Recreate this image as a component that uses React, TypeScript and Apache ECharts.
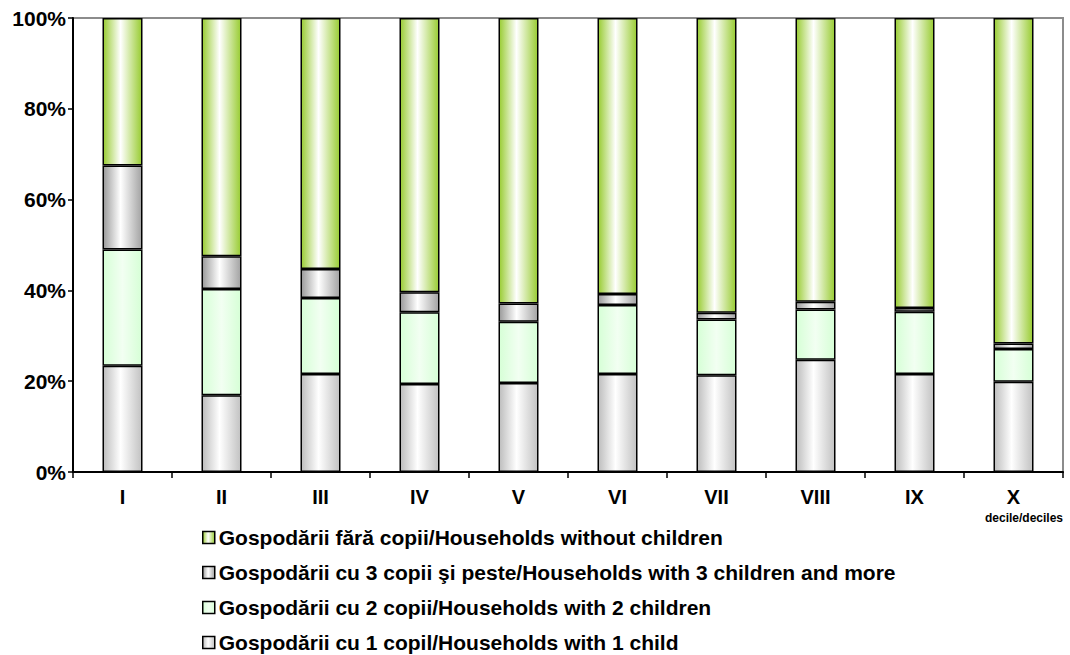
import React, { useEffect, useRef } from "react";
import * as echarts from "echarts";

const categories = ["I", "II", "III", "IV", "V", "VI", "VII", "VIII", "IX", "X"];
const oneChild = [23.4, 16.9, 21.6, 19.4, 19.6, 21.6, 21.3, 24.7, 21.6, 19.9];
const twoChildren = [25.6, 23.4, 16.7, 15.8, 13.5, 15.2, 12.3, 11.1, 13.7, 7.2];
const threePlus = [18.5, 7.2, 6.4, 4.4, 4.0, 2.4, 1.5, 1.7, 0.8, 1.2];
const noChildren = [32.5, 52.5, 55.3, 60.4, 62.9, 60.8, 64.9, 62.5, 63.9, 71.7];

const nameNo = "Gospodării fără copii/Households without children";
const name3 = "Gospodării cu 3 copii şi peste/Households with 3 children and more";
const name2 = "Gospodării cu 2 copii/Households with 2 children";
const name1 = "Gospodării cu 1 copil/Households with 1 child";
const legendOrder = [nameNo, name3, name2, name1];

const FONT = "'Liberation Sans', Arial, sans-serif";

function grad(edgeL: string, mid: string, edgeR: string, midPos = 0.45) {
  return new echarts.graphic.LinearGradient(0, 0, 1, 0, [
    { offset: 0, color: edgeL },
    { offset: midPos, color: mid },
    { offset: 1, color: edgeR },
  ]);
}

export default function App() {
  const ref = useRef<HTMLDivElement>(null);
  useEffect(() => {
    if (!ref.current) return;
    const chart = echarts.init(ref.current, null, { renderer: "svg" });
    const border = { borderColor: "#000", borderWidth: 1.5 };
    const mk = (name: string, data: number[], color: any) => ({
      name,
      type: "bar",
      stack: "total",
      barWidth: 40,
      data,
      itemStyle: { color, ...border },
    });
    const legends = legendOrder.map((n, i) => ({
      orient: "vertical",
      left: 202,
      top: 527 + i * 35,
      padding: 0,
      itemWidth: 12,
      itemHeight: 12,
      itemGap: 0,
      icon: "rect",
      data: [n],
      itemStyle: { borderColor: "#000", borderWidth: 1.5 },
      textStyle: {
        color: "#000",
        fontWeight: "bold",
        fontSize: 21,
        fontFamily: FONT,
        padding: [0, 0, 0, -1],
      },
    }));
    chart.setOption({
      animation: false,
      backgroundColor: "#fff",
      textStyle: { fontFamily: FONT },
      grid: {
        left: 73,
        right: 7,
        top: 18,
        bottom: 183,
        show: true,
        borderColor: "#8c8c8c",
        borderWidth: 2,
      },
      xAxis: {
        type: "category",
        data: categories,
        axisLine: { lineStyle: { color: "#000", width: 2 } },
        axisTick: { show: true, length: 6, lineStyle: { color: "#000", width: 1.5 } },
        axisLabel: {
          color: "#000",
          fontWeight: "bold",
          fontSize: 20,
          fontFamily: FONT,
          margin: 15,
        },
      },
      yAxis: {
        type: "value",
        min: 0,
        max: 100,
        interval: 20,
        splitLine: { show: false },
        axisLine: { show: true, lineStyle: { color: "#000", width: 2 } },
        axisTick: { show: true, length: 5, lineStyle: { color: "#000", width: 1.5 } },
        axisLabel: {
          formatter: "{value}%",
          color: "#000",
          fontWeight: "bold",
          fontSize: 21,
          fontFamily: FONT,
          margin: 7,
        },
      },
      legend: legends,
      graphic: [
        {
          type: "text",
          left: 985,
          top: 512,
          style: {
            text: "decile/deciles",
            fill: "#000",
            font: "bold 12px " + FONT,
          },
        },
      ],
      series: [
        mk(name1, oneChild, grad("#bdbdbd", "#ffffff", "#c2c2c2")),
        mk(name2, twoChildren, grad("#d6ffd6", "#f2fff2", "#d6ffd6", 0.5)),
        mk(name3, threePlus, grad("#9a9a9a", "#ffffff", "#a3a3a3")),
        mk(nameNo, noChildren, grad("#99cc33", "#ffffff", "#99cc33")),
      ],
    });
    return () => chart.dispose();
  }, []);
  return (
    <div
      ref={ref}
      style={{ position: "fixed", left: 0, top: 0, width: 1070, height: 655 }}
    />
  );
}
